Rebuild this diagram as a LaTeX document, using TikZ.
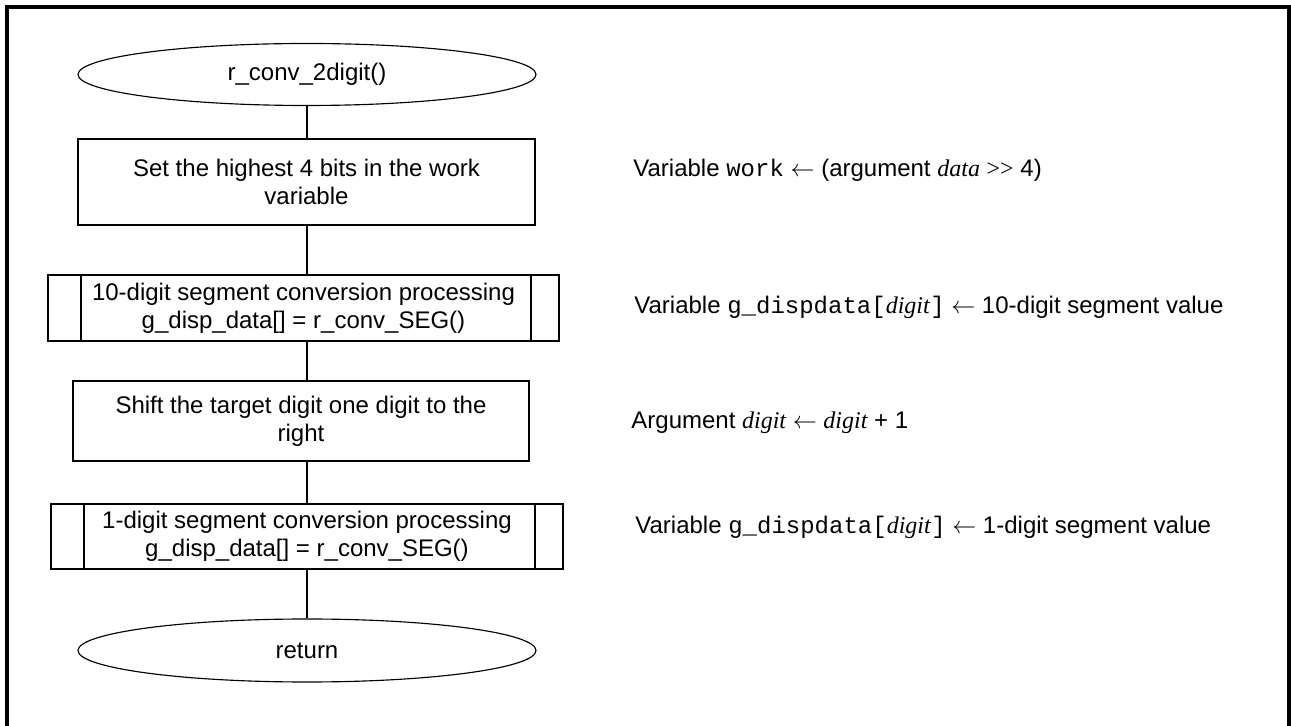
\documentclass[tikz,border=0pt]{standalone}
\usepackage{fontspec}
\setmainfont{Liberation Sans}
\setmonofont{Liberation Mono}
\newfontfamily\timesfont{Liberation Serif}
\usetikzlibrary{calc,shapes.geometric}
\newcommand{\argvar}[1]{{\timesfont\itshape #1}}
\newcommand{\larrow}{\ensuremath{\leftarrow}}
\tikzset{
	terminal/.style={draw, ellipse, line width=0.2mm, inner sep=0pt, minimum width=229pt, minimum height=31pt},
	procbox/.style={draw, rectangle, line width=0.3mm, align=center, inner sep=0pt, minimum width=228.5pt},
	subproc/.style={draw, rectangle, line width=0.3mm, align=center, inner sep=0pt, minimum width=255.5pt, minimum height=33pt},
	note/.style={anchor=west, inner sep=0pt},
	flow/.style={line width=0.3mm}
}

\begin{document}
\begin{tikzpicture}[x=0.5pt, y=-0.5pt, font=\fontsize{12}{14}\selectfont]
			%%%%% START %%%%%
			\useasboundingbox (0, 0) rectangle (1291, 726);
			
			\draw[line width=0.6mm] (7, 730) -- (7, 7) -- (1289, 7) -- (1289, 730);
			
			\node[terminal] (start) at (307, 74.5) {r\_conv\_2digit()};
			\node[procbox, minimum height=43pt] (sethigh) at (306.5, 182) {Set the highest 4 bits in the work\\variable};
			\node[subproc] (seg10) at (303.5, 308) {10-digit segment conversion processing\\g\_disp\_data[] = r\_conv\_SEG()};
			\node[procbox, minimum width=228pt, minimum height=40pt] (shift) at (301, 421) {Shift the target digit one digit to the\\right};
			\node[subproc, minimum width=256pt, minimum height=32.5pt] (seg1) at (307, 536.5) {1-digit segment conversion processing\\g\_disp\_data[] = r\_conv\_SEG()};
			\node[terminal, minimum height=31.5pt] (ret) at (307, 650.5) {return};
			
			\draw[flow] ($(seg10.north west)+(34, 0)$) -- ($(seg10.south west)+(34, 0)$);
			\draw[flow] ($(seg10.north east)+(-29, 0)$) -- ($(seg10.south east)+(-29, 0)$);
			\draw[flow] ($(seg1.north west)+(34, 0)$) -- ($(seg1.south west)+(34, 0)$);
			\draw[flow] ($(seg1.north east)+(-29, 0)$) -- ($(seg1.south east)+(-29, 0)$);
			
			\draw[flow] (start.south) -- (start.south |- sethigh.north);
			\draw[flow] (start.south |- sethigh.south) -- (start.south |- seg10.north);
			\draw[flow] (start.south |- seg10.south) -- (start.south |- shift.north);
			\draw[flow] (start.south |- shift.south) -- (start.south |- seg1.north);
			\draw[flow] (start.south |- seg1.south) -- (ret.north);
			
			\node[note] (notework) at (633, 170) {Variable \texttt{work} \larrow{} (argument \argvar{data} {\timesfont >>} 4)};
			\node[note] (noteseg10) at (634, 307) {Variable \texttt{g\_dispdata[}\argvar{digit}\texttt{]} \larrow{} 10-digit segment value};
			\node[note] (noteshift) at (631, 423) {Argument \argvar{digit} \larrow{} \argvar{digit} + 1};
			\node[note] (noteseg1) at (635, 527) {Variable \texttt{g\_dispdata[}\argvar{digit}\texttt{]} \larrow{} 1-digit segment value};
			
			%%%%% END %%%%%
\end{tikzpicture}
\end{document}
